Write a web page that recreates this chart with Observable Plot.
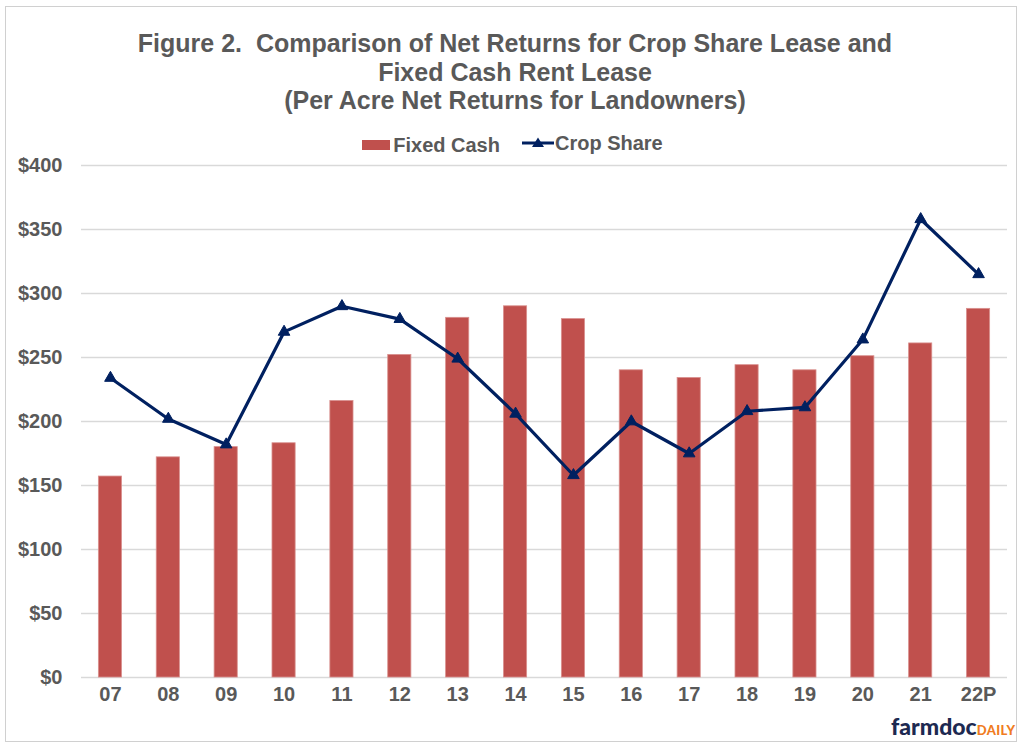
<!DOCTYPE html>
<html>
<head>
<meta charset="utf-8">
<script src="https://cdn.jsdelivr.net/npm/d3@7"></script>
<script src="https://cdn.jsdelivr.net/npm/@observablehq/plot@0.6"></script>
<style>
  html, body { margin: 0; padding: 0; background: #fff; }
  #wrap { position: relative; width: 1021px; height: 745px; overflow: hidden; font-family: "Liberation Sans", Arial, sans-serif; }
  #frame { position: absolute; left: 5px; top: 6px; width: 1012px; height: 736px; border: 1.5px solid #d0d0d0; box-sizing: border-box; }
  #title { position: absolute; left: 0; top: 29px; width: 1030px; text-align: center; font-weight: bold; font-size: 25px; line-height: 28.5px; color: #595959; }
  #legend { position: absolute; left: 0; top: 131px; width: 1025px; text-align: center; font-weight: bold; font-size: 20px; line-height: 24px; color: #595959; }
  #legend span.item { display: inline-flex; align-items: center; }
  #legend .sw { display: inline-block; width: 28px; height: 10px; background: #C0504D; margin-right: 3px; }
  #chart { position: absolute; left: 0; top: 150px; }
  #logo { position: absolute; left: 891px; top: 712px; font-family: Lato, "Liberation Sans", sans-serif; font-weight: 900; white-space: nowrap; }
  #logo .a { font-size: 23px; color: #1d2951; }
  #logo .b { font-size: 13px; color: #f07c22; letter-spacing: 0.4px; }
</style>
</head>
<body>
<div id="wrap">
  <div id="frame"></div>
  <div id="title">Figure 2.&nbsp; Comparison of Net Returns for Crop Share Lease and<br>Fixed Cash Rent Lease<br>(Per Acre Net Returns for Landowners)</div>
  <div id="legend">
    <span class="item" style="margin-right:22px"><span class="sw"></span>Fixed Cash</span><span class="item"><svg width="32" height="14" style="margin-right:1px"><line x1="0" y1="7" x2="32" y2="7" stroke="#002060" stroke-width="3"/><path d="M16,1.5 L22,11 L10,11 Z" fill="#002060"/></svg>Crop Share</span>
  </div>
  <div id="chart"></div>
  <div id="logo"><span class="a">farmdoc</span><span class="b">DAILY</span></div>
</div>
<script>
const years = ["07","08","09","10","11","12","13","14","15","16","17","18","19","20","21","22P"];
const fixedCash = [157, 172, 180, 183, 216, 252, 281, 290, 280, 240, 234, 244, 240, 251, 261, 288];
const cropShare = [234, 202, 182, 270, 290, 280, 249, 206, 158, 200, 175, 208, 211, 264, 358, 315];
const yTicks = [0, 50, 100, 150, 200, 250, 300, 350, 400];

const bars = years.map((y, i) => ({year: y, value: fixedCash[i]}));
const line = years.map((y, i) => ({year: y, value: cropShare[i]}));

const plot = Plot.plot({
  width: 1021,
  height: 560,
  marginTop: 15,
  marginBottom: 33,
  marginLeft: 81,
  marginRight: 14,
  style: {fontFamily: "Liberation Sans, Arial, sans-serif", fontWeight: "bold", color: "#595959", background: "transparent"},
  x: {domain: years, paddingInner: 0.6, paddingOuter: 0.3, round: false, label: null},
  y: {domain: [0, 400], label: null},
  marks: [
    Plot.gridY(yTicks, {stroke: "#d9d9d9", strokeOpacity: 1, strokeWidth: 1.5}),
    Plot.barY(bars, {x: "year", y: "value", fill: "#C0504D", stroke: "#d9908e", strokeWidth: 0.8}),
    Plot.line(line, {x: "year", y: "value", stroke: "#002060", strokeWidth: 3.2}),
    Plot.dot(line, {x: "year", y: "value", symbol: "triangle", r: 4.3, fill: "#002060", stroke: "#002060", strokeWidth: 1}),
    Plot.axisY({ticks: yTicks, tickFormat: d => "$" + d, tickSize: 0, tickPadding: 19, fontSize: 20, fill: "#595959"}),
    Plot.axisX({tickSize: 0, tickPadding: 9, fontSize: 20, fill: "#595959"})
  ]
});
document.getElementById("chart").appendChild(plot);
</script>
</body>
</html>
